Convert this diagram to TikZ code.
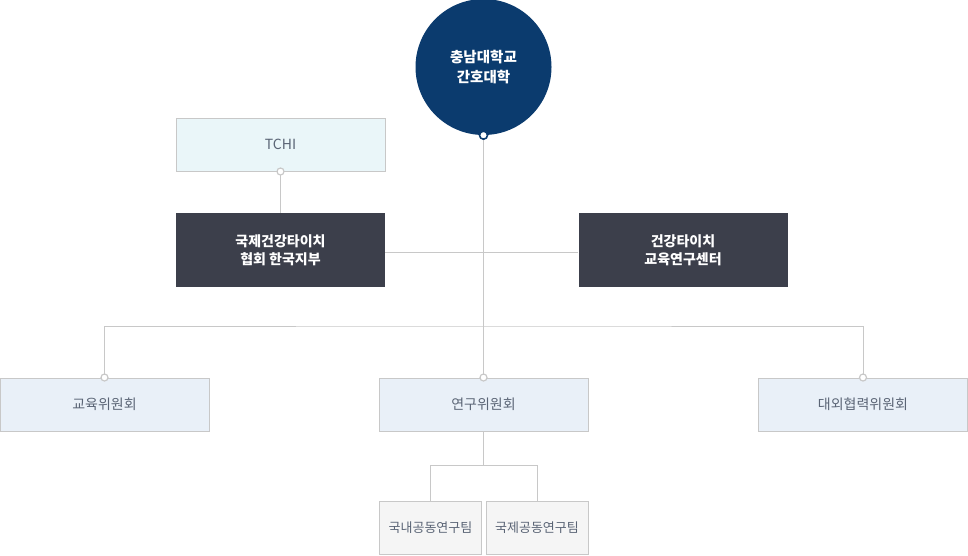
\documentclass[tikz,border=0pt]{standalone}
\usepackage{fontspec}
\setmainfont{Noto Sans CJK KR}
\usepackage{tikz}
\usetikzlibrary{calc}

\definecolor{navy}{HTML}{0B3B6E}
\definecolor{slate}{HTML}{3C3F4B}
\definecolor{rule}{HTML}{C8C8C8}
\definecolor{ice}{HTML}{EAF6F9}
\definecolor{pale}{HTML}{E9F0F8}
\definecolor{mist}{HTML}{F5F5F5}
\definecolor{ink}{HTML}{5A6475}

\begin{document}
\begin{tikzpicture}[x=1pt,y=-1pt,
  wire/.style={draw=rule, line width=1pt},
  dot/.style={circle, fill=white, draw=rule, line width=1.2pt, inner sep=0pt, minimum size=7pt},
  topdot/.style={circle, fill=white, draw=navy, line width=1.6pt, inner sep=0pt, minimum size=8pt},
  darkbox/.style={fill=slate, text=white, font=\bfseries\fontsize{14}{18}\selectfont, align=center, minimum width=209pt, minimum height=74pt, inner sep=0pt},
  tchibox/.style={fill=ice, draw=rule, line width=1pt, text=ink, font=\fontsize{14}{18}\selectfont, minimum width=209pt, minimum height=53pt, inner sep=0pt},
  cmtbox/.style={fill=pale, draw=rule, line width=1pt, text=ink, font=\fontsize{14}{18}\selectfont, minimum width=209pt, minimum height=53pt, inner sep=0pt},
  teambox/.style={fill=mist, draw=rule, line width=1pt, text=ink, font=\fontsize{13}{16}\selectfont, minimum width=102pt, minimum height=53pt, inner sep=0pt}]

\useasboundingbox (0,0) rectangle (968,555);

\node[circle, fill=navy, text=white, minimum size=136pt, inner sep=0pt, align=center, font=\bfseries\fontsize{14.5}{19.5}\selectfont] (cnu) at (483.5,67) {충남대학교\\간호대학};

\node[tchibox] (tchi) at (280.5,144.5) {TCHI};
\node[darkbox] (kor) at (280.5,250) {국제건강타이치\\협회 한국지부};
\node[darkbox] (ctr) at (683,250) {건강타이치\\교육연구센터};

\node[cmtbox] (edu) at (104.5,404.5) {교육위원회};
\node[cmtbox] (res) at (483.5,404.5) {연구위원회};
\node[cmtbox] (ext) at (863,404.5) {대외협력위원회};

\node[teambox] (dom) at (430.5,527.5) {국내공동연구팀};
\node[teambox] (intl) at (537,527.5) {국제공동연구팀};

\coordinate (bus) at (483.5,326);
\coordinate (fork) at (483.5,465);

\draw[wire] (cnu.south) -- (res.north);
\draw[wire] ([yshift=-2pt]kor.east) -- ([yshift=-2pt]ctr.west);
\draw[wire] (tchi.south) -- (kor.north);
\draw[wire] (edu.north) |- (bus) -| (ext.north);
\draw[wire] (res.south) -- (fork);
\draw[wire] (dom.north) |- (fork) -| (intl.north);

\node[topdot] at (cnu.south) {};
\node[dot] at (tchi.south) {};
\node[dot] at (edu.north) {};
\node[dot] at (res.north) {};
\node[dot] at (ext.north) {};

\end{tikzpicture}
\end{document}
